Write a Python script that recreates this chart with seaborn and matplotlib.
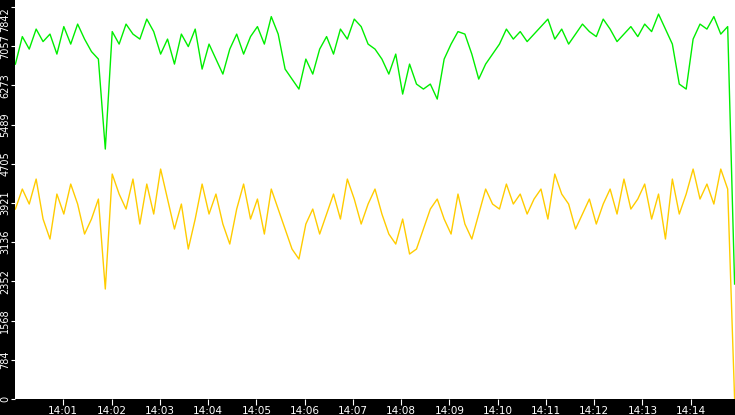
import matplotlib
matplotlib.use("Agg")
import matplotlib.pyplot as plt
import matplotlib.dates as mdates
import seaborn as sns
import pandas as pd
import numpy as np

green = [6700,7250,7000,7400,7150,7300,6900,7450,7100,7500,
         7200,6950,6800,5000,7350,7100,7500,7300,7200,7600,
         7350,6900,7200,6700,7300,7050,7400,6600,7100,6800,
         6500,7000,7300,6900,7250,7450,7100,7650,7300,6600,
         6400,6200,6800,6500,7000,7250,6900,7400,7200,7600,
         7450,7100,7000,6800,6500,6900,6100,6700,6300,6200,
         6300,6000,6800,7100,7350,7300,6900,6400,6700,6900,
         7100,7400,7200,7350,7150,7300,7450,7600,7200,7400,
         7100,7300,7500,7350,7250,7600,7400,7150,7300,7450,
         7250,7500,7350,7700,7400,7100,6300,6200,7200,7500,
         7400,7650,7300,7450,2300]
yellow = [3800,4200,3900,4400,3600,3200,4100,3700,4300,3900,
          3300,3600,4000,2200,4500,4100,3800,4400,3500,4300,
          3700,4600,4000,3400,3900,3000,3600,4300,3700,4100,
          3500,3100,3800,4300,3600,4000,3300,4200,3800,3400,
          3000,2800,3500,3800,3300,3700,4100,3600,4400,4000,
          3500,3900,4200,3700,3300,3100,3600,2900,3000,3400,
          3800,4000,3600,3300,4100,3500,3200,3700,4200,3900,
          3800,4300,3900,4100,3700,4000,4200,3600,4500,4100,
          3900,3400,3700,4000,3500,3900,4200,3700,4400,3800,
          4000,4300,3600,4100,3200,4400,3700,4100,4600,4000,
          4300,3900,4600,4200,0]
yticks = [0,784,1568,2352,3136,3921,4705,5489,6273,7057,7842]

n = len(green)
t = pd.date_range("2024-01-01 14:00:00.5", "2024-01-01 14:14:54.5", periods=n)
df = pd.DataFrame({"t": t, "green": green, "yellow": yellow})

fig = plt.figure(figsize=(7.35, 4.15), dpi=100, facecolor="black")
ax = fig.add_axes([15/735, 16/415, 720/735, 399/415])
ax.set_facecolor("white")
sns.lineplot(data=df, x="t", y="green", color="#00ee00", lw=1, ax=ax)
sns.lineplot(data=df, x="t", y="yellow", color="#ffcc00", lw=1, ax=ax)
ax.set_xlim(pd.Timestamp("2024-01-01 14:00:00"), pd.Timestamp("2024-01-01 14:14:55"))
ax.set_ylim(0, 7982)
ax.set_yticks(yticks)
ax.set_yticklabels([str(v) for v in yticks], rotation=90, va="center", color="white", fontsize=7)
ax.xaxis.set_major_locator(mdates.MinuteLocator(byminute=range(1, 15)))
ax.xaxis.set_major_formatter(mdates.DateFormatter("%H:%M"))
ax.tick_params(axis="x", colors="white", labelsize=7.5, length=4, pad=1)
ax.tick_params(axis="y", colors="white", length=3, pad=0.5)
for lbl in ax.get_yticklabels()[-1:]:
    lbl.set_va("top")
ax.set_xlabel(""); ax.set_ylabel("")
for s in ax.spines.values():
    s.set_visible(False)
fig.savefig("out.png", dpi=100, facecolor="black")
